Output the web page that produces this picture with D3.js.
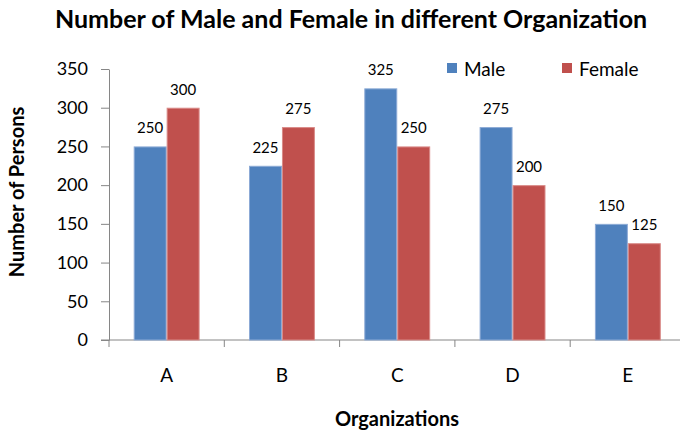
<!DOCTYPE html>
<html>
<head>
<meta charset="utf-8">
<script src="https://cdn.jsdelivr.net/npm/d3@7"></script>
<style>
  html, body { margin: 0; padding: 0; background: #fff; }
  svg { display: block; font-family: Lato, "Open Sans", sans-serif; }
</style>
</head>
<body>
<svg id="chart" width="680" height="434"></svg>
<script>
// Organizations and head counts by gender
const categories = ["A", "B", "C", "D", "E"];
const seriesNames = ["Male", "Female"];
const maleValues = [250, 225, 325, 275, 150];
const femaleValues = [300, 275, 250, 200, 125];
const yTicks = [0, 50, 100, 150, 200, 250, 300, 350];
const colors = { Male: "#4F81BD", Female: "#C0504D" };
const edgeColors = { Male: "#8CAAD6", Female: "#D98A88" };

const rows = categories.map((c, i) => ({
  cat: c,
  values: [
    { key: "Male", value: maleValues[i] },
    { key: "Female", value: femaleValues[i] }
  ]
}));

const svg = d3.select("#chart");
const plot = { left: 109, right: 685.5, top: 69, bottom: 340 };

const x = d3.scaleBand().domain(categories).range([plot.left, plot.right]).padding(0);
const xSub = d3.scaleBand().domain(seriesNames).range([0, x.bandwidth()])
  .paddingInner(0).paddingOuter(0.75);
const y = d3.scaleLinear().domain([0, 350]).range([plot.bottom, plot.top]);

const axisColor = "#868686";

// Title
svg.append("text")
  .attr("x", 351).attr("y", 28)
  .attr("text-anchor", "middle")
  .attr("font-size", 25).attr("font-weight", "bold")
  .attr("fill", "#000")
  .text("Number of Male and Female in different Organization");

// Y axis
const yAxis = svg.append("g")
  .attr("transform", `translate(${plot.left},0)`)
  .call(d3.axisLeft(y).tickValues(yTicks).tickSize(8).tickSizeOuter(0).tickPadding(13));
yAxis.select(".domain").attr("stroke", axisColor);
yAxis.selectAll(".tick line").attr("stroke", axisColor);
yAxis.selectAll(".tick text")
  .attr("font-family", "Lato, 'Open Sans', sans-serif")
  .attr("font-size", 18).attr("fill", "#000");

// X axis line and category boundary ticks
svg.append("line")
  .attr("x1", plot.left - 8).attr("x2", 680)
  .attr("y1", y(0)).attr("y2", y(0))
  .attr("stroke", axisColor);
const boundaries = categories.map(c => x(c)).concat([x(categories[categories.length - 1]) + x.bandwidth()]);
svg.append("g").selectAll("line").data(boundaries).join("line")
  .attr("x1", d => d).attr("x2", d => d)
  .attr("y1", y(0)).attr("y2", y(0) + 7)
  .attr("stroke", axisColor);

// Category labels
svg.append("g").selectAll("text").data(categories).join("text")
  .attr("x", d => x(d) + x.bandwidth() / 2)
  .attr("y", 382)
  .attr("text-anchor", "middle")
  .attr("font-size", 19).attr("fill", "#000")
  .text(d => d);

// Bars
const groups = svg.append("g").selectAll("g").data(rows).join("g")
  .attr("transform", d => `translate(${x(d.cat)},0)`);

groups.selectAll("rect").data(d => d.values).join("rect")
  .attr("x", d => xSub(d.key) + 0.5)
  .attr("y", d => y(d.value) + 0.5)
  .attr("width", xSub.bandwidth() - 1)
  .attr("height", d => y(0) - y(d.value) - 0.5)
  .attr("fill", d => colors[d.key])
  .attr("stroke", d => edgeColors[d.key])
  .attr("stroke-width", 1);

// Value labels above bars
groups.selectAll("text").data(d => d.values).join("text")
  .attr("x", d => xSub(d.key) + xSub.bandwidth() / 2)
  .attr("y", d => y(d.value) - 13)
  .attr("text-anchor", "middle")
  .attr("font-size", 15).attr("fill", "#000")
  .text(d => d.value);

// Legend
const legend = svg.append("g").selectAll("g").data(seriesNames).join("g")
  .attr("transform", (d, i) => `translate(${i === 0 ? 447 : 562},63)`);
legend.append("rect")
  .attr("width", 10).attr("height", 10)
  .attr("fill", d => colors[d]);
legend.append("text")
  .attr("x", 17).attr("y", 13)
  .attr("font-size", 19).attr("fill", "#000")
  .text(d => d);

// Axis titles
svg.append("text")
  .attr("x", 397).attr("y", 426)
  .attr("text-anchor", "middle")
  .attr("font-size", 20).attr("font-weight", "bold")
  .attr("fill", "#000")
  .text("Organizations");

svg.append("text")
  .attr("transform", "translate(24,192) rotate(-90)")
  .attr("text-anchor", "middle")
  .attr("font-size", 20).attr("font-weight", "bold")
  .attr("fill", "#000")
  .text("Number of Persons");
</script>
</body>
</html>
